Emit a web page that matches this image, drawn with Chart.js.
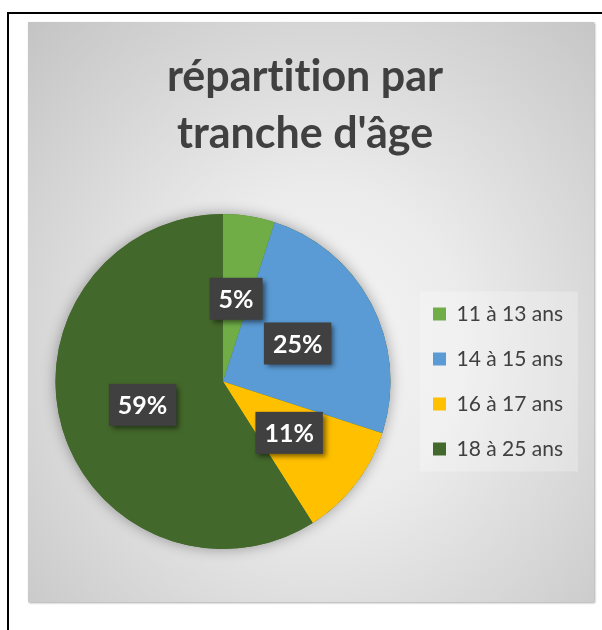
<!DOCTYPE html>
<html>
<head>
<meta charset="utf-8">
<script src="https://cdn.jsdelivr.net/npm/chart.js@4.4.1/dist/chart.umd.min.js"></script>
<style>
  html, body { margin: 0; padding: 0; background: #fff; overflow: hidden; }
  #frame { position: absolute; left: 7px; top: 12px; width: 640px; height: 660px; border: 2px solid #000; }
  #panel {
    position: absolute; left: 28px; top: 22px; width: 566px; height: 580px;
    background: radial-gradient(ellipse farthest-corner at 52% 56%, #f6f6f6 0%, #ebebeb 35%, #c4c4c4 100%);
    box-shadow: 1px 1px 2px rgba(0, 0, 0, 0.35);
  }
</style>
</head>
<body>
<div id="frame"></div>
<div id="panel"><canvas id="pieChart" width="566" height="580"></canvas></div>
<script>
const titleLines = ['répartition par', "tranche d'âge"];
const categories = ['11 à 13 ans', '14 à 15 ans', '16 à 17 ans', '18 à 25 ans'];
const shares = [5, 25, 11, 59];
const sliceColors = ['#70ad47', '#5b9bd5', '#ffc000', '#43682b'];

const legendSize = 21;
const measure = document.createElement('canvas').getContext('2d');
measure.font = legendSize + 'px Lato';
const legendTextW = Math.max(...categories.map(c => measure.measureText(c).width));

// soft shadow under the pie + lighter box behind the legend
const decorations = {
    id: 'decorations',
    beforeDraw(chart) {
        const lg = chart.legend;
        const ctx = chart.ctx;
        ctx.textRendering = 'optimizeSpeed'; // no "ti" ligature in the title
        const mid = (lg.top + lg.bottom) / 2;
        ctx.save();
        ctx.fillStyle = 'rgba(255, 255, 255, 0.25)';
        ctx.fillRect(lg.left + 11, mid - 90, 158, 180);
        ctx.restore();
    },
    beforeDatasetsDraw(chart) {
        const arc = chart.getDatasetMeta(0).data[0];
        const ctx = chart.ctx;
        ctx.save();
        ctx.shadowColor = 'rgba(0, 0, 0, 0.35)';
        ctx.shadowBlur = 14;
        ctx.fillStyle = '#43682b';
        ctx.beginPath();
        ctx.arc(arc.x, arc.y, arc.outerRadius, 0, Math.PI * 2);
        ctx.fill();
        ctx.restore();
    }
};

const percentLabels = {
    id: 'percentLabels',
    afterDatasetsDraw(chart) {
        const ctx = chart.ctx;
        const total = shares.reduce((a, b) => a + b, 0);
        ctx.save();
        ctx.font = 'bold 25px Lato';
        ctx.textAlign = 'center';
        ctx.textBaseline = 'middle';
        chart.getDatasetMeta(0).data.forEach((arc, i) => {
            const text = Math.round(shares[i] / total * 100) + '%';
            const pos = arc.tooltipPosition();
            const w = ctx.measureText(text).width + 18;
            const h = 42;
            ctx.save();
            ctx.shadowColor = 'rgba(0, 0, 0, 0.5)';
            ctx.shadowBlur = 5;
            ctx.shadowOffsetX = 3;
            ctx.shadowOffsetY = 3;
            ctx.fillStyle = '#404040';
            ctx.fillRect(pos.x - w / 2, pos.y - h / 2, w, h);
            ctx.restore();
            ctx.fillStyle = '#ffffff';
            ctx.fillText(text, pos.x, pos.y + 1);
        });
        ctx.restore();
    }
};

new Chart(document.getElementById('pieChart'), {
    type: 'pie',
    data: {
        labels: categories,
        datasets: [{
            data: shares,
            backgroundColor: sliceColors,
            borderWidth: 0
        }]
    },
    options: {
        responsive: false,
        animation: false,
        layout: { padding: { top: 0, left: 9, right: 127.5 - legendTextW, bottom: 53 } },
        plugins: {
            title: {
                display: true,
                text: titleLines,
                color: '#404040',
                font: { family: 'Lato', size: 43, weight: 'bold', lineHeight: 57 / 43 },
                padding: { top: 27, bottom: 51 }
            },
            legend: {
                position: 'right',
                fullSize: false,
                labels: {
                    color: '#404040',
                    font: { family: 'Lato', size: legendSize },
                    boxWidth: 13,
                    boxHeight: 13,
                    padding: 24
                }
            },
            tooltip: { enabled: false }
        }
    },
    plugins: [decorations, percentLabels]
});
</script>
</body>
</html>
